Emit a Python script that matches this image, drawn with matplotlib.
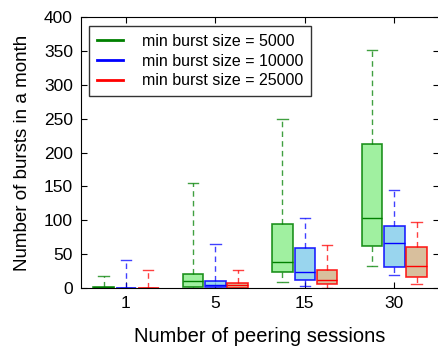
import matplotlib
matplotlib.use('Agg')
import matplotlib.pyplot as plt
from matplotlib.lines import Line2D

plt.rcParams['font.family'] = ['Liberation Sans', 'DejaVu Sans']

# ── Data ──────────────────────────────────────────────────────────────────────
sessions = ["1", "5", "15", "30"]
series_labels = ["min burst size = 5000", "min burst size = 10000",
                 "min burst size = 25000"]

# per series: [whislo, q1, med, q3, whishi] for each session group
stats_5000 = [
    [0, 0, 1, 2, 18],
    [0, 2, 10, 21, 155],
    [9, 24, 39, 94, 250],
    [33, 62, 104, 213, 352],
]
stats_10000 = [
    [0, 0, 0, 0.5, 41],
    [0, 1.5, 5, 10, 65],
    [3, 12, 24, 59, 103],
    [19, 31, 66, 92, 145],
]
stats_25000 = [
    [0, 0, 0, 0.5, 27],
    [0, 0.5, 4, 7.5, 27],
    [0.5, 5.5, 12, 27, 64],
    [5.5, 16, 33, 60, 97],
]

edge_cols = ["#008000", "#0000FF", "#FF0000"]
face_cols = ["#90EE90", "#87CEEB", "#D2B48C"]
offsets = [-0.25, 0.0, 0.25]

fig = plt.figure(figsize=(4.39, 3.47), dpi=100)
ax = fig.add_axes([0.185, 0.17, 0.815, 0.781])

for stats, ec, fc, off in zip([stats_5000, stats_10000, stats_25000],
                              edge_cols, face_cols, offsets):
    bxp_stats = []
    for lo, q1, med, q3, hi in stats:
        bxp_stats.append(dict(whislo=lo, q1=q1, med=med, q3=q3, whishi=hi,
                              fliers=[]))
    pos = [i + 1 + off for i in range(len(stats))]
    ax.bxp(bxp_stats, positions=pos, widths=0.23, patch_artist=True,
           showfliers=False,
           boxprops=dict(facecolor=fc, edgecolor=ec, linewidth=1.2, alpha=0.85),
           medianprops=dict(color=ec, linewidth=1.0),
           whiskerprops=dict(color=ec, linestyle=(0, (4, 3)), linewidth=1.0,
                             alpha=0.75),
           capprops=dict(color=ec, linewidth=1.0, alpha=0.75))

ax.set_xlim(0.5, 4.5)
ax.set_ylim(0, 400)
ax.set_xticks(range(1, len(sessions) + 1))
ax.set_xticklabels(sessions)
ax.set_yticks(range(0, 401, 50))
ax.tick_params(direction='in', top=True, right=True, labelsize=12.5,
               length=4, pad=6)
ax.set_xlabel("Number of peering sessions", fontsize=14.5, labelpad=11)
ax.set_ylabel("Number of bursts in a month", fontsize=13.5, labelpad=9)

handles = [Line2D([], [], color=c, lw=2) for c in edge_cols]
leg = ax.legend(handles, series_labels, loc='upper left', fontsize=11.5,
                fancybox=False, edgecolor='black', handlelength=1.6,
                handletextpad=1.2, borderpad=0.5, labelspacing=0.3,
                bbox_to_anchor=(0.0, 0.997))
leg.get_frame().set_linewidth(1.0)

plt.savefig("out.png", dpi=100)
plt.close()
